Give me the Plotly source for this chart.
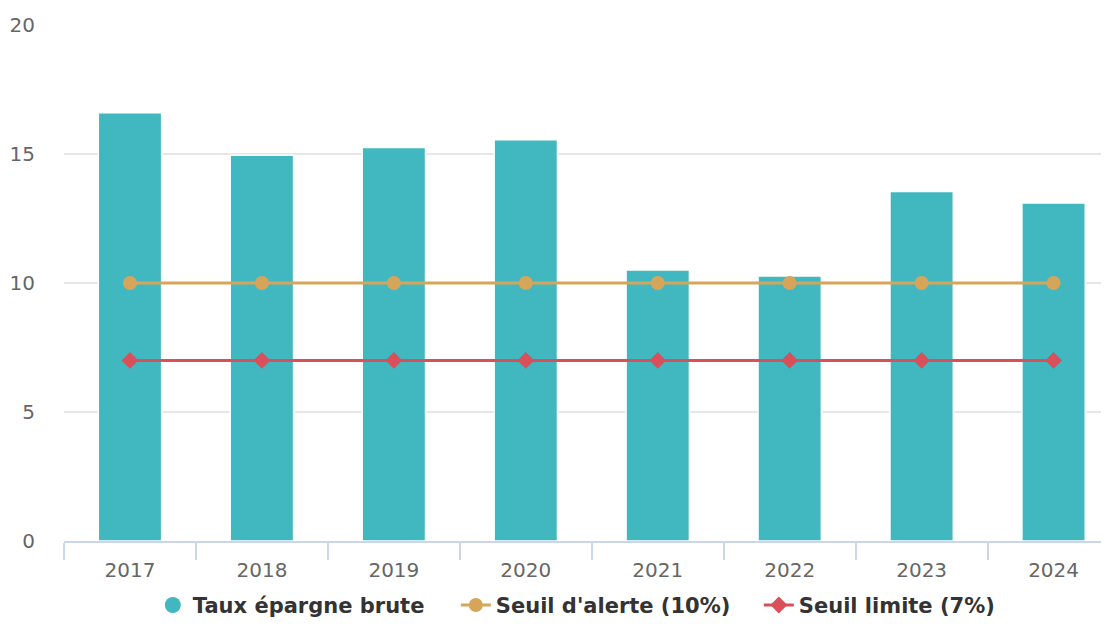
import plotly.graph_objects as go

years = ["2017", "2018", "2019", "2020", "2021", "2022", "2023", "2024"]
taux_epargne = [16.6, 14.95, 15.25, 15.55, 10.5, 10.27, 13.55, 13.1]
seuil_alerte = [10, 10, 10, 10, 10, 10, 10, 10]
seuil_limite = [7, 7, 7, 7, 7, 7, 7, 7]

TEAL = "#41b8c0"
ORANGE = "#d6a55a"
RED = "#d9505a"
FONT = "DejaVu Sans"

fig = go.Figure()
fig.add_trace(go.Bar(x=years, y=taux_epargne, name="Taux épargne brute", showlegend=False,
                     marker=dict(color=TEAL, line=dict(color="white", width=1.5))))
fig.add_trace(go.Scatter(x=[None], y=[None], mode="markers", name="Taux épargne brute",
                         marker=dict(symbol="circle", size=20, color=TEAL)))
fig.add_trace(go.Scatter(x=years, y=seuil_alerte, mode="lines+markers", name="Seuil d'alerte (10%)",
                         line=dict(color=ORANGE, width=3),
                         marker=dict(symbol="circle", size=14, color=ORANGE)))
fig.add_trace(go.Scatter(x=years, y=seuil_limite, mode="lines+markers", name="Seuil limite (7%)",
                         line=dict(color=RED, width=3),
                         marker=dict(symbol="diamond", size=13, color=RED)))

fig.update_layout(
    width=1101, height=636,
    margin=dict(l=56, r=0, t=17, b=103),
    paper_bgcolor="white", plot_bgcolor="white",
    font=dict(family=FONT, color="#666666", size=20),
    bargap=0.52,
    showlegend=True,
    legend=dict(orientation="h", x=0.085, xanchor="left", y=-0.085, yanchor="top",
                font=dict(family=FONT, size=21, color="#333333", weight="bold"),
                itemsizing="trace", traceorder="normal", itemwidth=30,
                entrywidth=258, entrywidthmode="pixels"),
    xaxis=dict(type="category", range=[-0.5, 7.42], showgrid=False, automargin=False,
               showline=True, linecolor="#ccd6eb", linewidth=1.5,
               ticks="outside", tickson="boundaries", ticklen=17, tickcolor="#ccd6eb", tickwidth=1.5,
               ticklabelstandoff=10, tickfont=dict(size=20, color="#666666")),
    yaxis=dict(range=[0, 20], tickvals=[0, 5, 10, 15, 20], showgrid=True, automargin=False,
               gridcolor="#e6e6e6", gridwidth=1.5, zeroline=False, showline=False,
               ticklabelstandoff=28, tickfont=dict(size=20, color="#666666")),
)

fig.write_html("out.html")
